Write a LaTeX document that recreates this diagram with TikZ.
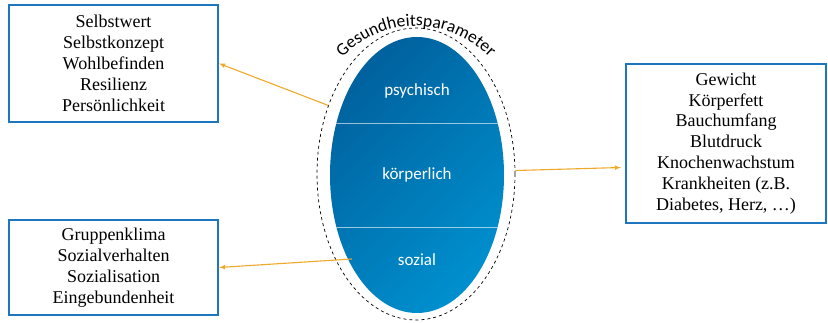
\documentclass[tikz,border=0pt]{standalone}
\usepackage{fontspec}
\setmainfont{Liberation Serif}
\newfontfamily\calibri{Carlito}
\usetikzlibrary{arrows}
\usetikzlibrary{shapes}
\usetikzlibrary{decorations.text}
\definecolor{boxblue}{RGB}{30,118,190}
\definecolor{eggdark}{RGB}{0,98,158}
\definecolor{egglight}{RGB}{0,143,206}
\definecolor{arroworange}{RGB}{240,168,40}
\begin{document}
\begin{tikzpicture}[x = 1pt, y = 1pt]
\tikzstyle{BoxStyle}=[shape = rectangle,
                      draw = boxblue,
                      line width = 2pt,
                      inner sep = 0pt,
                      align = center,
                      font = \fontsize{18}{20.9}\selectfont]
\tikzstyle{EggLabel}=[text = white,
                      font = \calibri\fontsize{17}{17}\selectfont]
\tikzstyle{Link}=[draw = arroworange, line width = 1.1pt, -latex]
\useasboundingbox (0,0) rectangle (828,323);
\node[BoxStyle, minimum width = 209pt, minimum height = 117pt] (psyBox) at (113.5,259.5)
   {Selbstwert\\Selbstkonzept\\Wohlbefinden\\Resilienz\\Persönlichkeit};
\node[BoxStyle, minimum width = 200pt, minimum height = 159pt] (koerBox) at (726,179.5)
   {Gewicht\\Körperfett\\Bauchumfang\\Blutdruck\\Knochenwachstum\\Krankheiten (z.B.\\Diabetes, Herz, \dots)};
\node[BoxStyle, minimum width = 209pt, minimum height = 95pt] (sozBox) at (113.5,55.5)
   {Gruppenklima\\Sozialverhalten\\Sozialisation\\Eingebundenheit};
\node[ellipse, minimum width = 198pt, minimum height = 292pt, draw, dashed, line width = 0.7pt] (outer) at (416,149) {};
\node[ellipse, minimum width = 174pt, minimum height = 276pt, inner sep = 0pt,
      top color = eggdark, bottom color = egglight, shading angle = 45] (egg) at (417,148) {};
\begin{scope}
\clip (417,148) ellipse [x radius = 87, y radius = 138];
\draw[white, opacity = 0.6, line width = 1pt] (320,199) -- (515,199);
\draw[white, opacity = 0.6, line width = 1pt] (320,95) -- (515,95);
\end{scope}
\node[EggLabel] (psy) at (417,232) {psychisch};
\node[EggLabel] (koer) at (417,148) {körperlich};
\node[EggLabel] (soz) at (417,63) {sozial};
\path[decorate, decoration = {text along path, text align = center,
      text = {|\calibri\fontsize{17.5}{17.5}\selectfont|Gesundheitsparameter}}]
   ([shift = {(416,149)}]130:120 and 148) arc [start angle = 130, end angle = 50, x radius = 120, y radius = 148];
\coordinate (sozStart) at (352,64);
\draw[Link] (outer.142) -- (psyBox.east);
\draw[Link] (outer.2) -- ([xshift = -4pt, yshift = -24pt]koerBox.west);
\draw[Link] (sozStart) -- (sozBox.east);
\end{tikzpicture}
\end{document}
